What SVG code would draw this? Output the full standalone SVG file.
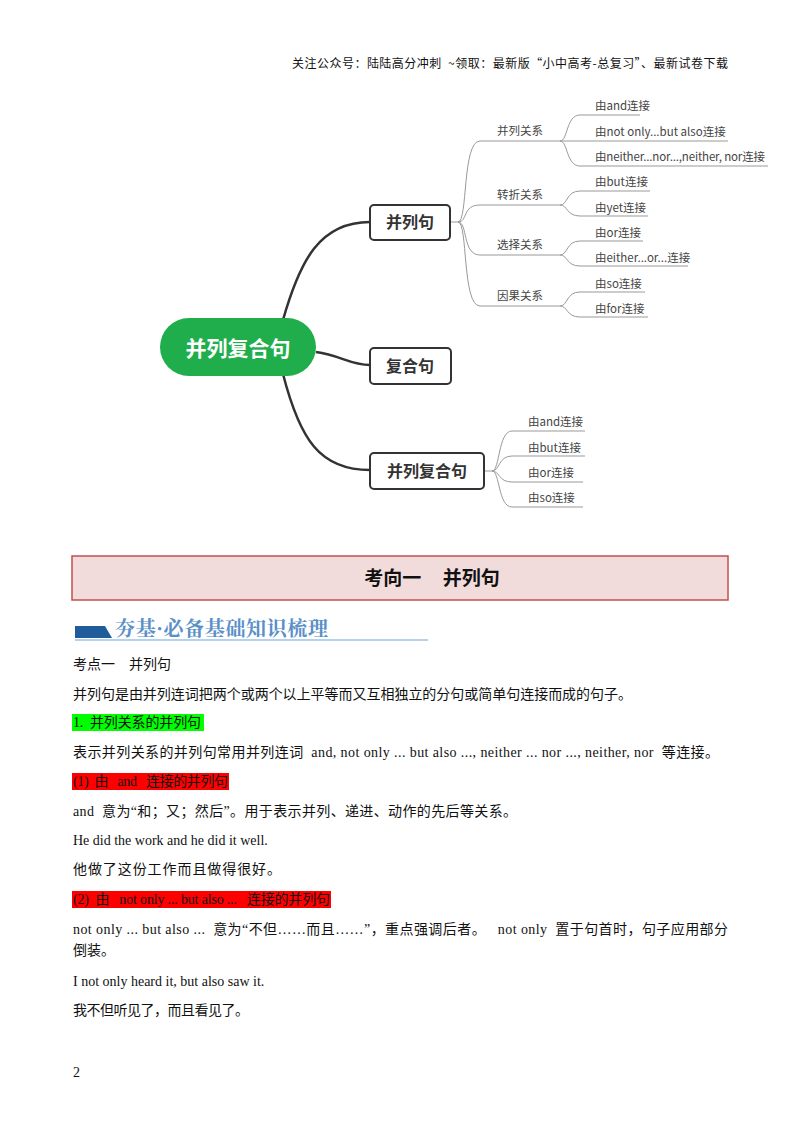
<svg xmlns="http://www.w3.org/2000/svg" width="800" height="1132" viewBox="0 0 800 1132">
<style>
.b{font-family:"Liberation Serif","Noto Sans CJK SC",serif;font-size:14px;fill:#111;white-space:pre}
.m{font-family:"Noto Sans CJK SC",sans-serif;font-size:11.5px;fill:#444}
.n{font-family:"Noto Sans CJK SC",sans-serif;font-size:16px;font-weight:bold;fill:#333;text-anchor:middle}
.t{fill:none;stroke:#999;stroke-width:1}
.k{fill:none;stroke:#333;stroke-width:2.5}
</style>
<rect width="800" height="1132" fill="#fff"/>
<text x="292" y="68" textLength="436" font-family="Noto Sans CJK SC,sans-serif" font-size="12" fill="#111" xml:space="preserve">关注公众号：陆陆高分冲刺  ~领取：最新版“小中高考-总复习”、最新试卷下载</text>
<g id="connectors">
<path class="k" d="M283,320 C300,260 320,222 370,222"/>
<path class="k" d="M316,352 C340,355 350,365 370,365"/>
<path class="k" d="M283,374 C300,440 320,470 370,470"/>
<path class="t" d="M450,222 H458 C468,222 462,141 480,141 H560 M458,222 C468,222 462,205 480,205 H560 M458,222 C468,222 462,255 480,255 H560 M458,222 C468,222 462,306 480,306 H560"/>
<path class="t" d="M560,141 C568,141 566,115 580,115 H640 M560,141 H728 M560,141 C568,141 566,166 580,166 H768"/>
<path class="t" d="M560,205 C568,205 566,191 580,191 H650 M560,205 C568,205 566,216 580,216 H648"/>
<path class="t" d="M560,255 C568,255 566,241 580,241 H643 M560,255 C568,255 566,266 580,266 H688"/>
<path class="t" d="M560,306 C568,306 566,292 580,292 H645 M560,306 C568,306 566,317 580,317 H648"/>
<path class="t" d="M484,471 H492 C500,471 498,431 512,431 H585 M492,471 C500,471 498,456 512,456 H585 M492,471 C500,471 498,482 512,482 H583 M492,471 C500,471 498,507 512,507 H583"/>
</g>
<g id="root"><rect x="160" y="318" width="156" height="58" rx="29" fill="#1fae4b"/><text x="238" y="356" text-anchor="middle" font-family="Noto Sans CJK SC,sans-serif" font-size="21" font-weight="bold" fill="#fff">并列复合句</text></g>
<g id="n1"><rect x="370" y="205" width="80" height="35" rx="4" fill="#fff" stroke="#333" stroke-width="2"/><text class="n" x="410" y="228">并列句</text></g>
<g id="n2"><rect x="370" y="348" width="81" height="36" rx="4" fill="#fff" stroke="#333" stroke-width="2"/><text class="n" x="410" y="372">复合句</text></g>
<g id="n3"><rect x="370" y="453" width="114" height="36" rx="4" fill="#fff" stroke="#333" stroke-width="2"/><text class="n" x="427" y="477">并列复合句</text></g>
<g id="labels">
<text class="m" x="497" y="135">并列关系</text><text class="m" x="497" y="199">转折关系</text><text class="m" x="497" y="249">选择关系</text><text class="m" x="497" y="300">因果关系</text>
<text class="m" x="595" y="110">由and连接</text><text class="m" x="595" y="136">由not only...but also连接</text><text class="m" x="595" y="161" textLength="170">由neither...nor...,neither, nor连接</text>
<text class="m" x="595" y="186">由but连接</text><text class="m" x="595" y="212">由yet连接</text>
<text class="m" x="595" y="237">由or连接</text><text class="m" x="595" y="262">由either...or...连接</text>
<text class="m" x="595" y="288">由so连接</text><text class="m" x="595" y="313">由for连接</text>
<text class="m" x="528" y="426">由and连接</text><text class="m" x="528" y="452">由but连接</text><text class="m" x="528" y="477">由or连接</text><text class="m" x="528" y="502">由so连接</text>
</g>
<rect x="72" y="556" width="656" height="44" fill="#f2dcdb" stroke="#c0504d" stroke-width="1.5"/>
<text x="432" y="585" text-anchor="middle" font-family="Noto Sans CJK SC,sans-serif" font-size="19" font-weight="bold" fill="#111" xml:space="preserve">考向一     并列句</text>
<polygon points="75,626 105,626 112,638 75,638" fill="#1f5c99"/>
<line x1="75" y1="640" x2="428" y2="640" stroke="#9dc3e6" stroke-width="1.5"/>
<text x="115" y="636" textLength="213" font-family="Noto Serif CJK SC,Noto Sans CJK SC,serif" font-size="20" font-weight="bold" fill="#5b8fc7">夯基·必备基础知识梳理</text>
<rect x="72" y="714" width="132" height="17" fill="#00ff00"/>
<rect x="72" y="773" width="157" height="17" fill="#ff0000"/>
<rect x="72" y="891" width="259" height="17" fill="#ff0000"/>
<g xml:space="preserve">
<text x="73" y="669" class="b">考点一    并列句</text>
<text x="73" y="699" class="b" textLength="559">并列句是由并列连词把两个或两个以上平等而又互相独立的分句或简单句连接而成的句子。</text>
<text x="73" y="727" class="b" textLength="128">1.  并列关系的并列句</text>
<text x="73" y="757" class="b" textLength="646">表示并列关系的并列句常用并列连词  and, not only ... but also ..., neither ... nor ..., neither, nor  等连接。</text>
<text x="73" y="786" class="b" textLength="155">(1)  由   and   连接的并列句</text>
<text x="73" y="816" class="b" textLength="444">and  意为“和；又；然后”。用于表示并列、递进、动作的先后等关系。</text>
<text x="73" y="845" class="b">He did the work and he did it well.</text>
<text x="73" y="874" class="b" textLength="208">他做了这份工作而且做得很好。</text>
<text x="73" y="904" class="b" textLength="257">(2)  由   not only ... but also ...   连接的并列句</text>
<text x="73" y="934" class="b" textLength="655">not only ... but also ...  意为“不但……而且……”，重点强调后者。   not only  置于句首时，句子应用部分</text>
<text x="73" y="955" class="b">倒装。</text>
<text x="73" y="986" class="b">I not only heard it, but also saw it.</text>
<text x="73" y="1015" class="b" textLength="176">我不但听见了，而且看见了。</text>
<text x="73" y="1077" class="b">2</text>
</g>
</svg>
